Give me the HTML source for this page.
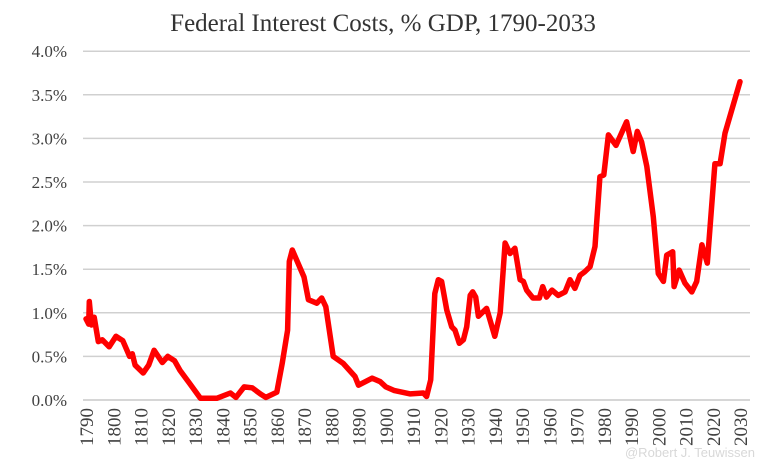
<!DOCTYPE html>
<html><head><meta charset="utf-8"><style>
html,body{margin:0;padding:0;background:#fff;}
svg{display:block;font-family:"Liberation Serif",serif;}
</style></head><body>
<svg id="chart" width="762" height="469">
<text x="383" y="31" text-anchor="middle" font-size="25" fill="#333">Federal Interest Costs, % GDP, 1790-2033</text>
<g id="grid"></g><g id="yl"></g><g id="xl"></g>
<path id="line" fill="none" stroke="#ff0000" stroke-width="5.5" stroke-linejoin="round" stroke-linecap="round"></path>
<text x="755" y="457" text-anchor="end" font-family="Liberation Sans,sans-serif" font-size="13" fill="#d8d8d8">@Robert J. Teuwissen</text>
</svg>
<script>
const years=[1790,1791,1791.2,1792,1793,1794.5,1796,1798.5,1801,1803.5,1806,1807,1808,1811,1813,1815,1818,1820,1822.5,1824.5,1828,1832,1838,1843,1845,1848,1851,1854,1856,1860,1862,1864,1864.6,1865.7,1870,1871.6,1874.7,1876.5,1878,1880.7,1884.4,1888.7,1890,1895,1898,1900,1903,1909,1913.8,1915,1916.5,1918,1919.3,1920.5,1922.4,1924.2,1925.4,1927,1928.5,1929.7,1931,1931.9,1933,1934,1937,1940,1942,1943.8,1945.6,1947.4,1949.3,1950.5,1951.7,1954,1956.4,1957.6,1959,1961,1963.3,1965.8,1967.6,1969.4,1971.3,1973,1975,1976.8,1978.6,1980,1981.7,1984.5,1988.4,1990.8,1992.3,1993.9,1995.8,1998.2,2000,2001.9,2003.1,2005.3,2005.8,2007.7,2009.8,2012.3,2014.1,2016,2018,2020.8,2022.7,2024.5,2030];
const values=[0.93,0.87,1.13,0.86,0.95,0.67,0.69,0.61,0.73,0.68,0.50,0.53,0.40,0.31,0.40,0.57,0.43,0.50,0.45,0.34,0.19,0.02,0.02,0.08,0.03,0.15,0.14,0.07,0.03,0.09,0.42,0.80,1.59,1.72,1.41,1.15,1.11,1.17,1.07,0.50,0.42,0.27,0.17,0.25,0.21,0.15,0.11,0.07,0.08,0.04,0.23,1.22,1.38,1.36,1.03,0.84,0.80,0.65,0.69,0.84,1.20,1.24,1.18,0.96,1.05,0.73,1.00,1.80,1.68,1.74,1.38,1.36,1.26,1.17,1.17,1.30,1.18,1.26,1.20,1.24,1.38,1.28,1.43,1.47,1.53,1.76,2.56,2.58,3.04,2.92,3.19,2.85,3.08,2.96,2.68,2.10,1.45,1.36,1.66,1.70,1.30,1.49,1.34,1.24,1.36,1.78,1.57,2.71,2.71,3.06,3.65];
const yTicks=[0,0.5,1,1.5,2,2.5,3,3.5,4];
const xTicks=[1790,1800,1810,1820,1830,1840,1850,1860,1870,1880,1890,1900,1910,1920,1930,1940,1950,1960,1970,1980,1990,2000,2010,2020,2030];
const NS="http://www.w3.org/2000/svg";
const xs=y=>86+(y-1790)*2.725;
const ys=v=>400-v*87.2;
const grid=document.getElementById('grid'),yl=document.getElementById('yl'),xl=document.getElementById('xl');
yTicks.forEach(t=>{
  if(t>0){const l=document.createElementNS(NS,'line');
  l.setAttribute('x1',83);l.setAttribute('x2',750);l.setAttribute('y1',ys(t));l.setAttribute('y2',ys(t));
  l.setAttribute('stroke','#d0d0d0');l.setAttribute('stroke-width','1.5');
  
  
  grid.appendChild(l);}
  const tx=document.createElementNS(NS,'text');
  tx.setAttribute('x',67);tx.setAttribute('y',ys(t)+6);tx.setAttribute('text-anchor','end');tx.setAttribute('font-size','17');tx.setAttribute('fill','#404040');
  tx.textContent=t.toFixed(1)+'%';
  
  
  yl.appendChild(tx);
});
const ax=document.createElementNS(NS,'line');
ax.setAttribute('x1',83);ax.setAttribute('x2',750);ax.setAttribute('y1',400);ax.setAttribute('y2',400);ax.setAttribute('stroke','#c8c8c8');ax.setAttribute('stroke-width','1.5');


grid.appendChild(ax);
xTicks.forEach(t=>{
  const tx=document.createElementNS(NS,'text');
  const x=xs(t)+7,y=408;
  tx.setAttribute('transform','translate('+x+','+y+') rotate(-90)');
  tx.setAttribute('text-anchor','end');tx.setAttribute('font-size','19');tx.setAttribute('fill','#404040');
  tx.textContent=t;
  
  
  xl.appendChild(tx);
});
document.getElementById('line').setAttribute('d',years.map((y,i)=>(i?'L':'M')+xs(y).toFixed(1)+','+ys(values[i]).toFixed(1)).join(''));
</script>
</body></html>
